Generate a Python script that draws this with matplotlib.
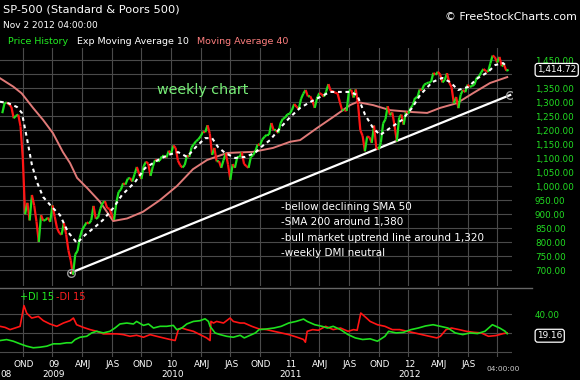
import numpy as np
import matplotlib
matplotlib.use('Agg')
import matplotlib.pyplot as plt
from matplotlib.collections import LineCollection
from matplotlib.lines import Line2D
import matplotlib.transforms as mtransforms
from matplotlib.ticker import FuncFormatter

plt.rcParams['font.family'] = ['DejaVu Sans']

# ---------------- data (weekly, week 0 = 1 Aug 2008) ----------------
price = [1260, 1296, 1298, 1292, 1282, 1242, 1251, 1255, 1213, 1099,
         899, 940, 877, 968, 930, 873, 800, 896, 876, 879,
         887, 872, 931, 890, 850, 832, 826, 868, 827, 770,
         735, 683, 756, 768, 816, 843, 857, 870, 866, 877,
         929, 883, 887, 919, 940, 946, 921, 919, 896, 879,
         940, 979, 987, 1010, 1005, 1026, 1029, 1016, 1042, 1068,
         1044, 1025, 1071, 1087, 1080, 1036, 1069, 1093, 1091, 1091,
         1106, 1106, 1102, 1126, 1115, 1145, 1136, 1091, 1074, 1066,
         1075, 1109, 1104, 1138, 1150, 1160, 1167, 1178, 1194, 1192,
         1217, 1187, 1111, 1136, 1088, 1089, 1065, 1092, 1117, 1076,
         1022, 1078, 1065, 1102, 1102, 1121, 1079, 1071, 1065, 1104,
         1110, 1125, 1149, 1146, 1166, 1176, 1183, 1183, 1225, 1199,
         1199, 1189, 1224, 1240, 1244, 1256, 1258, 1271, 1293, 1283,
         1276, 1311, 1330, 1343, 1320, 1321, 1304, 1279, 1313, 1332,
         1328, 1319, 1337, 1364, 1340, 1338, 1333, 1331, 1300, 1271,
         1271, 1268, 1340, 1344, 1316, 1345, 1292, 1199, 1179, 1124,
         1177, 1174, 1154, 1216, 1136, 1131, 1155, 1224, 1238, 1285,
         1253, 1263, 1216, 1159, 1244, 1255, 1219, 1265, 1258, 1278,
         1289, 1315, 1316, 1345, 1343, 1362, 1366, 1370, 1371, 1404,
         1397, 1408, 1398, 1370, 1379, 1403, 1369, 1353, 1295, 1318,
         1278, 1326, 1343, 1335, 1362, 1354, 1357, 1362, 1386, 1391,
         1406, 1418, 1411, 1407, 1438, 1466, 1460, 1441, 1461, 1428,
         1433, 1412, 1414.72]

ema_weeks = [-1, 2.5, 6.5, 8.6, 10.8, 13, 15.2, 17.9, 21.8, 25.3,
             28.8, 32.8, 36.3, 40.7, 44.2, 48.6, 52.5, 58.2, 62.6, 68.3,
             72.7, 77.1, 81, 84.5, 88.9, 92, 94.6, 97.7, 102.1, 106.5,
             110.8, 113, 117.4, 121.8, 126.2, 130.6, 135, 139.4, 143.7, 148.1,
             152.5, 155.6, 159.1, 162.6, 165.7, 170, 175.3, 179.7, 183.2, 188.5,
             192.9, 196.4, 199.9, 204.3, 208.6, 213, 216.1, 219.6, 221.4]
ema_values = [1301, 1296, 1282, 1261, 1171, 1075, 1014, 961, 925, 896,
              836, 796, 825, 854, 879, 921, 968, 1014, 1064, 1093,
              1111, 1121, 1104, 1136, 1171, 1171, 1139, 1118, 1100, 1104,
              1118, 1136, 1164, 1207, 1246, 1279, 1300, 1318, 1336, 1336,
              1336, 1325, 1254, 1207, 1182, 1207, 1236, 1279, 1325, 1371,
              1386, 1371, 1343, 1354, 1386, 1407, 1432, 1439, 1425]

ma_weeks = [-1, 4.8, 8.5, 13.5, 17.9, 22.2, 26.6, 29.7, 32.8, 37.2,
            42.9, 48.6, 54.7, 61.7, 69.2, 76.6, 83.6, 89.8, 98.6, 110,
            118.7, 126.2, 130.6, 138, 145, 152.5, 155.6, 162.6, 170, 180,
            186.3, 192, 199.4, 206.5, 213.9, 221.4]
ma_values = [1385, 1355, 1331, 1279, 1236, 1189, 1121, 1082, 1029, 993,
             943, 875, 884, 908, 950, 1000, 1060, 1093, 1118, 1122,
             1136, 1158, 1164, 1207, 1246, 1289, 1300, 1289, 1271, 1264,
             1261, 1279, 1296, 1332, 1368, 1389]

trend_weeks = [30, 222.7]
trend_values = [690, 1325]

dim_weeks = [-1.0, 1.2, 3.4, 5.6, 7.8, 9.5, 10.7, 12.9, 15.8, 18, 20.9, 23.9, 26.8,
             29.7, 31.2, 32.6, 35.5, 38.5, 41.4, 44.3, 47.2, 50.2, 53.1, 56, 58.9,
             61.9, 64.8, 67.7, 70.6, 73.6, 75.8, 77.2, 78.7, 80.9, 83.8, 86.7, 89.6,
             91.1, 91.5, 92.6, 94, 97, 99.9, 101.3, 104.3,
             106.1, 109.4, 112.6, 115.9, 119.1, 122.3, 125.6, 128.8, 132.1, 132.9,
             133.7, 136.1, 138.6, 141.8, 145.1, 148.3, 151.6, 154, 155.6, 157.2,
             159.7, 161.3, 164.5, 167.8, 171, 174.3, 177.5, 180.8, 184, 187.3,
             190.5, 192.1, 194.6, 197, 200.3, 203.5, 206.7, 210, 213.2, 216.5,
             219.7, 221.4]
dim_values = [27, 25.9, 23.5, 25.2, 27, 49, 41, 35.8, 37.5, 33, 29.5, 27, 30.5,
              33, 35.8, 28.7, 25.9, 23.5, 21.7, 19, 19, 19, 18.2, 16.4, 17.5,
              15.4, 18.2, 16.4, 14.7, 13, 11.9, 23.5, 25.2, 23.5, 21.7, 18.2, 14.7,
              11.9, 32.2, 30.5, 32.2, 30.5, 35.8, 32.2, 30.5,
              30.5, 27, 24.2, 23.5, 21.7, 20, 18.2, 15.8, 13, 10.1,
              21.7, 23.5, 22.8, 27, 23.5, 25.2, 21.7, 23.5, 22.8, 41.1,
              35.8, 32.2, 28.7, 27, 23.5, 23.5, 21.7, 20, 18.2, 16.4,
              14.7, 16.4, 23.5, 25.2, 23.5, 21.7, 20.6, 20, 16.4, 17.2,
              19.3, 20]

dip_weeks = [-1, 1.9, 4.8, 7.8, 10.7, 13.6, 16.5, 19.5, 22.4, 25.3, 28.2, 30.4, 31.9,
             34.1, 37, 39.2, 41.4, 44.3, 47.2, 49.4, 51.6, 54.6, 57.5, 58.9, 61.9,
             64.1, 66.3, 69.2, 72.1, 75, 76.5, 78.7, 80.9, 83.8, 86.7, 88.9, 90.4,
             91.1, 93.3, 95.5, 98.4, 101.3, 104.3,
             106.1, 111, 112.6, 115.9, 119.1, 122.3, 125.6, 128.8, 132.1, 133.7,
             137, 140.2, 142.6, 145.1, 148.3, 151.6, 154.8, 158, 161.3, 164.5,
             167.8, 169.4, 172.7, 175.9, 179.2, 182.4, 185.6, 188.9, 192.1, 195.4,
             198.6, 201.9, 205.1, 208.4, 211.6, 214.9, 218.1, 220.5, 221.4]
dip_values = [11.9, 12.9, 11.2, 8.4, 5.9, 4.2, 4.8, 5.9, 8.4, 8.4, 9.5, 9.5, 12.9,
              15.4, 16.4, 20, 21.7, 20, 21.7, 25.2, 29.5, 30.5, 29.5, 32.2, 28,
              29.5, 25.2, 27, 27, 28, 23.5, 25.2, 29.5, 32.2, 33, 35, 32.2,
              27, 20, 18.2, 16.4, 15.4, 17.5,
              14.7, 20, 23.5, 24.2, 25.2, 27, 30.5, 32.2, 34.7, 32.2,
              28.7, 27, 25.2, 27, 23.5, 18.2, 14.7, 13, 13.7, 11.2,
              16.4, 21.7, 20, 20.6, 23.5, 25.2, 27.4, 28.7, 27, 25.2,
              20, 18.2, 20, 19.3, 21.7, 28.7, 25.2, 21.7, 19.16]

quarter_weeks = [9, 22, 35, 48, 61, 74, 87, 100, 113, 126, 139, 152, 165, 178, 191, 204, 217]
quarter_labels = ['OND', '09', 'AMJ', 'JAS', 'OND', '10', 'AMJ', 'JAS', 'OND', '11',
                  'AMJ', 'JAS', 'OND', '12', 'AMJ', 'JAS', '']
year_weeks = [22, 74, 126, 178]
year_labels = ['2009', '2010', '2011', '2012']
first_year_label = '08'
price_ticks = list(range(700, 1451, 50))
hidden_price_tick = 1400   # covered by the last-price box in the reference

# ---------------- figure ----------------
W, H = 580, 380
BG = 'black'
GRID = '#4a4a4a'
GREEN = '#22dd22'
fig = plt.figure(figsize=(W / 100, H / 100), dpi=100, facecolor=BG)


def px_axes(x0, y0, x1, y1):
    return fig.add_axes([x0 / W, 1 - y1 / H, (x1 - x0) / W, (y1 - y0) / H])


def ftext(x, y, s, **kw):
    kw.setdefault('va', 'center')
    return fig.text(x / W, 1 - y / H, s, **kw)


ax = px_axes(0, 48, 512, 286)
ax2 = px_axes(0, 290, 512, 357)
for a in (ax, ax2):
    a.set_facecolor(BG)
    for s in a.spines.values():
        s.set_visible(False)
    a.set_xlim(-1, 223.5)
    a.set_xticks(quarter_weeks)
    a.tick_params(axis='x', length=0, labelbottom=False)
    a.yaxis.tick_right()
    a.tick_params(axis='y', length=0, pad=16.5, labelcolor=GREEN, labelsize=6.3)
    a.grid(True, color=GRID, lw=0.8)
    a.set_axisbelow(True)

# main panel
ax.set_ylim(642.9, 1492.9)
ax.set_yticks(price_ticks)
ax.yaxis.set_major_formatter(
    FuncFormatter(lambda v, p: '' if abs(v - hidden_price_tick) < 1e-6 else f'{v:,.2f}'))

wk = np.arange(len(price))
pr = np.array(price, dtype=float)
segs = np.stack([np.column_stack([wk[:-1], pr[:-1]]), np.column_stack([wk[1:], pr[1:]])], axis=1)
cols = ['#1ee01e' if b >= a_ else '#ff1515' for a_, b in zip(pr[:-1], pr[1:])]
ax.add_collection(LineCollection(segs, colors=cols, linewidths=1.6, zorder=4))

ax.plot(ma_weeks, ma_values, color='#e07a78', lw=1.4, zorder=3)
ax.plot(ema_weeks, ema_values, color='white', lw=1.5, dashes=(1.8, 1.8), zorder=5)
ax.plot(trend_weeks, trend_values, color='white', lw=1.6, zorder=3)
ax.plot(trend_weeks, trend_values, ls='none', marker='o', ms=5.5, mfc='none',
        mec='#9a9a9a', mew=1.0, zorder=6)

trans = mtransforms.blended_transform_factory(ax.transAxes, ax.transData)
ax.text(1.049, price[-1], f'{price[-1]:,.2f}', transform=trans, color='white',
        fontsize=6.4, va='center', ha='left',
        bbox=dict(boxstyle='round,pad=0.22,rounding_size=0.3', fc='black', ec='white', lw=0.9))

ftext(203, 90, 'weekly chart', color='#77ee77', fontsize=10.3, ha='center')

notes = ['-bellow declining SMA 50', '-SMA 200 around 1,380',
         '-bull market uptrend line around 1,320', '-weekly DMI neutral']
for k, s in enumerate(notes):
    ftext(281, 207 + 15.3 * k, s, color='white', fontsize=7.5, ha='left')

# lower panel
ax2.set_ylim(-5.6, 65.6)
ax2.set_yticks([0, 20, 40])
ax2.yaxis.set_major_formatter(FuncFormatter(lambda v, p: '40.00' if abs(v - 40) < 1e-6 else ''))
ax2.plot(dim_weeks, dim_values, color='#ff1515', lw=1.2, zorder=3)
ax2.plot(dip_weeks, dip_values, color='#1ee01e', lw=1.2, zorder=4)
trans2 = mtransforms.blended_transform_factory(ax2.transAxes, ax2.transData)
ax2.text(1.049, 17.0, f'{dip_values[-1]:.2f}', transform=trans2, color='white',
         fontsize=6.4, va='center', ha='left',
         bbox=dict(boxstyle='round,pad=0.22,rounding_size=0.3', fc='black', ec='white', lw=0.9))

xt = ax2.get_xaxis_transform()
for w, s in zip(quarter_weeks, quarter_labels):
    ax2.text(w + 0.5, -0.105, s, transform=xt, color='white', fontsize=6.4,
             ha='center', va='center', clip_on=False)
for w, s in zip(year_weeks, year_labels):
    ax2.text(w + 0.5, -0.255, s, transform=xt, color='white', fontsize=6.4,
             ha='center', va='center', clip_on=False)
ax2.text(0.0, -0.255, first_year_label, transform=ax2.transAxes, color='white',
         fontsize=6.4, ha='left', va='center', clip_on=False)
ax2.text(219.5, -0.18, '04:00:00', transform=xt, color='#cccccc', fontsize=5.4,
         ha='center', va='center', clip_on=False)

# separator
fig.add_artist(Line2D([0, 532 / W], [1 - 288 / H, 1 - 288 / H], color='#666666', lw=1.0))

# header texts
ftext(3, 9, 'SP-500 (Standard & Poors 500)', color='white', fontsize=8.2, ha='left')
ftext(3, 25, 'Nov 2 2012 04:00:00', color='white', fontsize=6.5, ha='left')
ftext(577, 17, '\u00a9 FreeStockCharts.com', color='white', fontsize=7.9, ha='right')
ftext(8, 42, 'Price History', color='#22ee22', fontsize=6.8, ha='left')
ftext(77, 42, 'Exp Moving Average 10', color='white', fontsize=6.8, ha='left')
ftext(197, 42, 'Moving Average 40', color='#ff7f7f', fontsize=6.8, ha='left')
ftext(20, 297, '+DI 15', color='#22ee22', fontsize=7, ha='left')
ftext(56, 297, '-DI 15', color='#ff2020', fontsize=7, ha='left')

fig.savefig('out.png', dpi=100, facecolor=BG)
